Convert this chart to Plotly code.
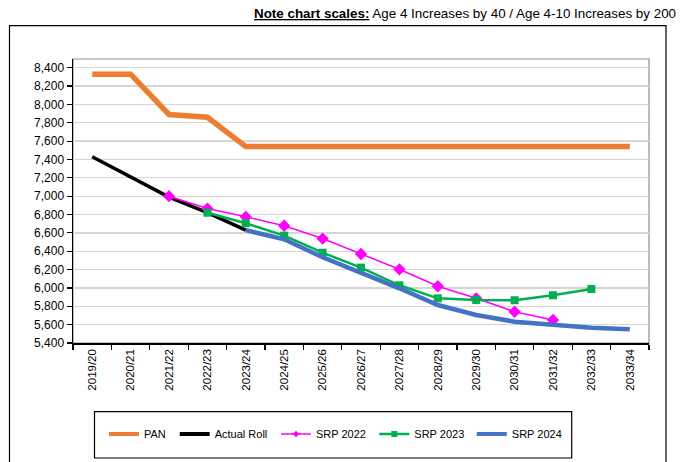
import plotly.graph_objects as go

years = ["2019/20", "2020/21", "2021/22", "2022/23", "2023/24", "2024/25", "2025/26",
         "2026/27", "2027/28", "2028/29", "2029/30", "2030/31", "2031/32", "2032/33", "2033/34"]

pan = [8330, 8330, 7890, 7860, 7540, 7540, 7540, 7540, 7540, 7540, 7540, 7540, 7540, 7540, 7540]
actual_years = years[0:5]
actual_roll = [7430, 7210, 6990, 6820, 6630]
srp2022_years = years[2:13]
srp2022 = [7000, 6865, 6775, 6678, 6538, 6370, 6203, 6018, 5887, 5741, 5651]
srp2023_years = years[3:14]
srp2023 = [6820, 6705, 6570, 6384, 6221, 6029, 5887, 5869, 5866, 5920, 5989]
srp2024_years = years[4:15]
srp2024 = [6630, 6530, 6334, 6170, 5996, 5814, 5705, 5632, 5596, 5567, 5549]

y_ticks = list(range(5400, 8401, 200))
y_ticktext = [f"{v:,}" for v in y_ticks]

FONT = "Liberation Sans, Arial, sans-serif"

L, R, T, B = 73, 649, 59, 343          # plot area, page pixels
W, H = 682, 462                        # figure size
pw, ph = R - L, B - T


def px_x(x):
    return (x - L) / pw


def px_y(y):
    return (B - y) / ph


fig = go.Figure()

styles = {
    "PAN": dict(mode="lines", line=dict(color="#ED7D31", width=5.5)),
    "Actual Roll": dict(mode="lines", line=dict(color="#000000", width=3.5)),
    "SRP 2022": dict(mode="lines+markers", line=dict(color="#FF00FF", width=1.5),
                     marker=dict(symbol="diamond", size=9.5, color="#FF00FF")),
    "SRP 2023": dict(mode="lines+markers", line=dict(color="#00B050", width=2.5),
                     marker=dict(symbol="square", size=8, color="#00B050")),
    "SRP 2024": dict(mode="lines", line=dict(color="#4472C4", width=4.5)),
}
legend_styles = {
    "PAN": dict(mode="lines", line=dict(color="#ED7D31", width=4)),
    "Actual Roll": dict(mode="lines", line=dict(color="#000000", width=4)),
    "SRP 2022": dict(mode="lines+markers", line=dict(color="#FF00FF", width=1.5),
                     marker=dict(symbol="diamond", size=5, color="#FF00FF")),
    "SRP 2023": dict(mode="lines+markers", line=dict(color="#00B050", width=2.5),
                     marker=dict(symbol="square", size=6, color="#00B050")),
    "SRP 2024": dict(mode="lines", line=dict(color="#4472C4", width=4)),
}

series = [
    ("PAN", years, pan),
    ("Actual Roll", actual_years, actual_roll),
    ("SRP 2022", srp2022_years, srp2022),
    ("SRP 2023", srp2023_years, srp2023),
    ("SRP 2024", srp2024_years, srp2024),
]

for name, xs, ys in series:
    fig.add_trace(go.Scatter(x=xs, y=ys, name=name, showlegend=False, **styles[name]))

legend_x_px = [104, 174.7, 276, 374.3, 471.8]
legend_y = px_y(434)
legend_common = dict(orientation="h", yanchor="middle", xanchor="left", y=legend_y,
                     font=dict(family=FONT, size=11, color="#000"),
                     bgcolor="rgba(0,0,0,0)", borderwidth=0, itemwidth=30)
layout_legends = {}
for i, ((name, xs, ys), xp) in enumerate(zip(series, legend_x_px)):
    key = "legend" if i == 0 else f"legend{i+1}"
    layout_legends[key] = dict(legend_common, x=px_x(xp))
    # legend-only entry (no data points)
    fig.add_trace(go.Scatter(x=[None], y=[None], name=name, legend=key, showlegend=True,
                             hoverinfo="skip", **legend_styles[name]))

shapes = [
    # outer frame
    dict(type="rect", xref="paper", yref="paper", x0=px_x(9.5), x1=px_x(666),
         y0=px_y(480), y1=px_y(25.7), line=dict(color="#000", width=1.2), layer="below"),
    # plot area border (gray)
    dict(type="rect", xref="paper", yref="paper", x0=0, x1=1, y0=0, y1=1,
         line=dict(color="#8c8c8c", width=1.2), layer="below"),
    # legend box
    dict(type="rect", xref="paper", yref="paper", x0=px_x(94.5), x1=px_x(571.7),
         y0=px_y(458), y1=px_y(411.7), line=dict(color="#000", width=1.2), layer="below"),
]

annotations = [
    dict(xref="paper", yref="paper", x=px_x(253), y=px_y(13.5), xanchor="left", yanchor="middle",
         showarrow=False, borderpad=0,
         text="<b><u>Note chart scales:</u></b> Age 4 Increases by 40 / Age 4-10 Increases by 200",
         font=dict(family=FONT, size=13.4, color="#000")),
]

ymax = 8400 + (67.7 - T) / 18.35 * 200

fig.update_layout(
    width=W, height=H,
    margin=dict(l=L, r=W - R, t=T, b=H - B, pad=0),
    paper_bgcolor="white", plot_bgcolor="white",
    shapes=shapes, annotations=annotations,
    showlegend=True,
    **layout_legends,
    xaxis=dict(type="category", categoryorder="array", categoryarray=years,
               range=[-0.5, 14.5], tickson="boundaries", ticks="outside", ticklen=5,
               tickcolor="#000", tickwidth=1.2, showline=True, linecolor="#000", linewidth=1.5,
               showgrid=False, tickangle=-90,
               tickfont=dict(family=FONT, size=11.5, color="#000"), fixedrange=True),
    yaxis=dict(range=[5400, ymax], tickvals=y_ticks, ticktext=y_ticktext,
               ticks="outside", ticklen=5, tickcolor="#000", tickwidth=1.2,
               showline=True, linecolor="#000", linewidth=1.5,
               showgrid=True, gridcolor="#d6d6d6", gridwidth=1.3, zeroline=False,
               tickfont=dict(family=FONT, size=12, color="#000"), fixedrange=True),
)

fig.write_html("out.html", config={"displayModeBar": False, "staticPlot": True},
               post_script="document.body.style.margin='0';document.body.style.overflow='hidden';")
